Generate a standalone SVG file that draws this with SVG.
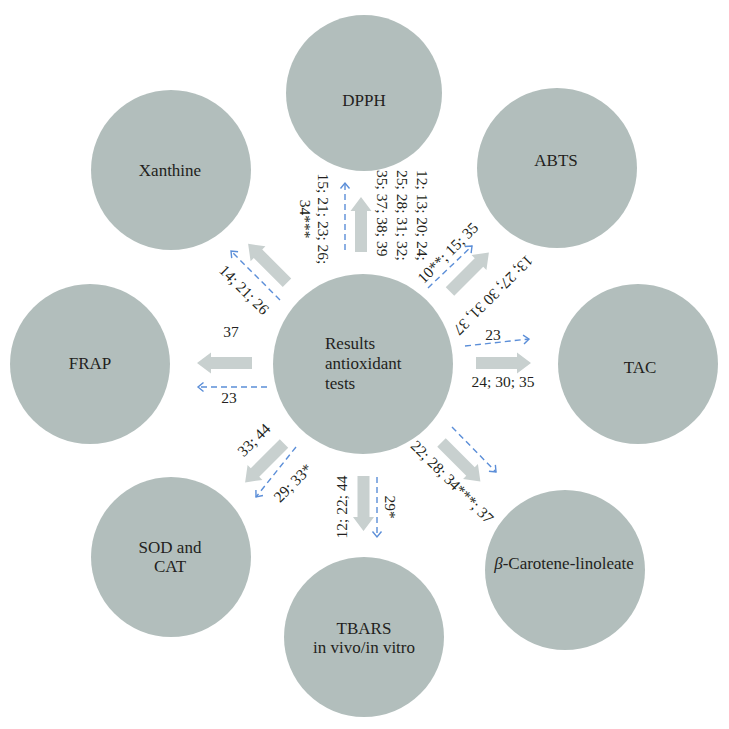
<svg xmlns="http://www.w3.org/2000/svg" width="729" height="729" viewBox="0 0 729 729">
<style>
.node{fill:#b2bebc}
.nt{font-family:"Liberation Serif","Times New Roman",serif;font-size:17px;fill:#231f20;text-anchor:middle}
.lb{font-family:"Liberation Serif","Times New Roman",serif;font-size:15.5px;fill:#231f20;text-anchor:middle}
.ga{fill:#c8d0cf}
.dl{fill:none;stroke:#5b8ed8;stroke-width:1.4;stroke-dasharray:6 4;marker-end:url(#oa)}
</style>
<defs>
<marker id="oa" markerUnits="userSpaceOnUse" markerWidth="12" markerHeight="12" refX="8" refY="6" orient="auto">
<path d="M2.5,1.5 L8,6 L2.5,10.5" fill="none" stroke="#5b8ed8" stroke-width="1.4"/>
</marker>
<path id="garrow" d="M0,-6 H41 V-10.5 L55,0 L41,10.5 V6 H0 Z"/>
</defs>
<rect width="729" height="729" fill="#ffffff"/>

<g id="center">
<circle class="node" cx="363" cy="364" r="90"/>
<text class="nt" style="text-anchor:start" x="325" y="349">Results</text>
<text class="nt" style="text-anchor:start" x="325" y="369">antioxidant</text>
<text class="nt" style="text-anchor:start" x="325" y="389">tests</text>
</g>
<g id="dpph"><circle class="node" cx="364" cy="93" r="78"/><text class="nt" x="364" y="106">DPPH</text></g>
<g id="abts"><circle class="node" cx="557" cy="168" r="80"/><text class="nt" x="556" y="166">ABTS</text></g>
<g id="tac"><circle class="node" cx="638" cy="364" r="80"/><text class="nt" x="640" y="373">TAC</text></g>
<g id="bcarotene"><circle class="node" cx="565" cy="570" r="80"/><text class="nt" x="564" y="569"><tspan font-style="italic">β</tspan>-Carotene-linoleate</text></g>
<g id="tbars"><circle class="node" cx="364" cy="637" r="80"/><text class="nt" x="364" y="634">TBARS</text><text class="nt" x="364" y="653">in vivo/in vitro</text></g>
<g id="sod"><circle class="node" cx="171" cy="557" r="80"/><text class="nt" x="170" y="553">SOD and</text><text class="nt" x="170" y="572">CAT</text></g>
<g id="frap"><circle class="node" cx="90" cy="364" r="80"/><text class="nt" x="90" y="369">FRAP</text></g>
<g id="xanthine"><circle class="node" cx="171" cy="170" r="80"/><text class="nt" x="170" y="176">Xanthine</text></g>

<g id="connectors">
<use href="#garrow" class="ga" transform="translate(361,252) rotate(-90)"/>
<use href="#garrow" class="ga" transform="translate(476,363)"/>
<use href="#garrow" class="ga" transform="translate(252,363) rotate(180)"/>
<use href="#garrow" class="ga" transform="translate(363.5,476) rotate(90)"/>
<use href="#garrow" class="ga" transform="translate(450,291.5) rotate(-45)"/>
<use href="#garrow" class="ga" transform="translate(441.5,442.5) rotate(45)"/>
<use href="#garrow" class="ga" transform="translate(284,443.5) rotate(135)"/>
<use href="#garrow" class="ga" transform="translate(287,282.7) rotate(-135)"/>

<line class="dl" x1="345" y1="250" x2="345" y2="183"/>
<line class="dl" x1="428" y1="288" x2="472" y2="246"/>
<line class="dl" x1="465" y1="346" x2="529" y2="339"/>
<line class="dl" x1="452" y1="427" x2="496" y2="472"/>
<line class="dl" x1="377" y1="477" x2="377" y2="537"/>
<line class="dl" x1="296" y1="447" x2="256" y2="497"/>
<line class="dl" x1="267" y1="387" x2="198" y2="387"/>
<line class="dl" x1="280" y1="300" x2="231" y2="251"/>
</g>

<g id="labels">
<text class="lb" transform="translate(314,219) rotate(90)"><tspan x="0" y="-4">15; 21; 23; 26;</tspan><tspan x="0" y="14">34***</tspan></text>
<text class="lb" style="text-anchor:start" transform="translate(402,170) rotate(90)"><tspan x="0" y="-15">12; 13; 20; 24;</tspan><tspan x="0" y="5">25; 28; 31; 32;</tspan><tspan x="0" y="25">35; 37; 38; 39</tspan></text>
<text class="lb" transform="translate(448,253) rotate(-45)" y="5">10**; 15; 35</text>
<text class="lb" transform="translate(493,295) rotate(135)" y="5">13; 27; 30 31, 37</text>
<text class="lb" x="493" y="340">23</text>
<text class="lb" x="503" y="387">24; 30; 35</text>
<text class="lb" transform="translate(452,482) rotate(45)" y="5">22; 28; 34***; 37</text>
<text class="lb" transform="translate(342,507) rotate(-90)" y="5">12; 22; 44</text>
<text class="lb" transform="translate(390,507) rotate(90)" y="5">29*</text>
<text class="lb" transform="translate(254,440) rotate(-45)" y="5">33; 44</text>
<text class="lb" transform="translate(293,483) rotate(-45)" y="5">29; 33*</text>
<text class="lb" x="231" y="337">37</text>
<text class="lb" x="229" y="403">23</text>
<text class="lb" transform="translate(244,290) rotate(45)" y="5">14; 21; 26</text>
</g>
</svg>
